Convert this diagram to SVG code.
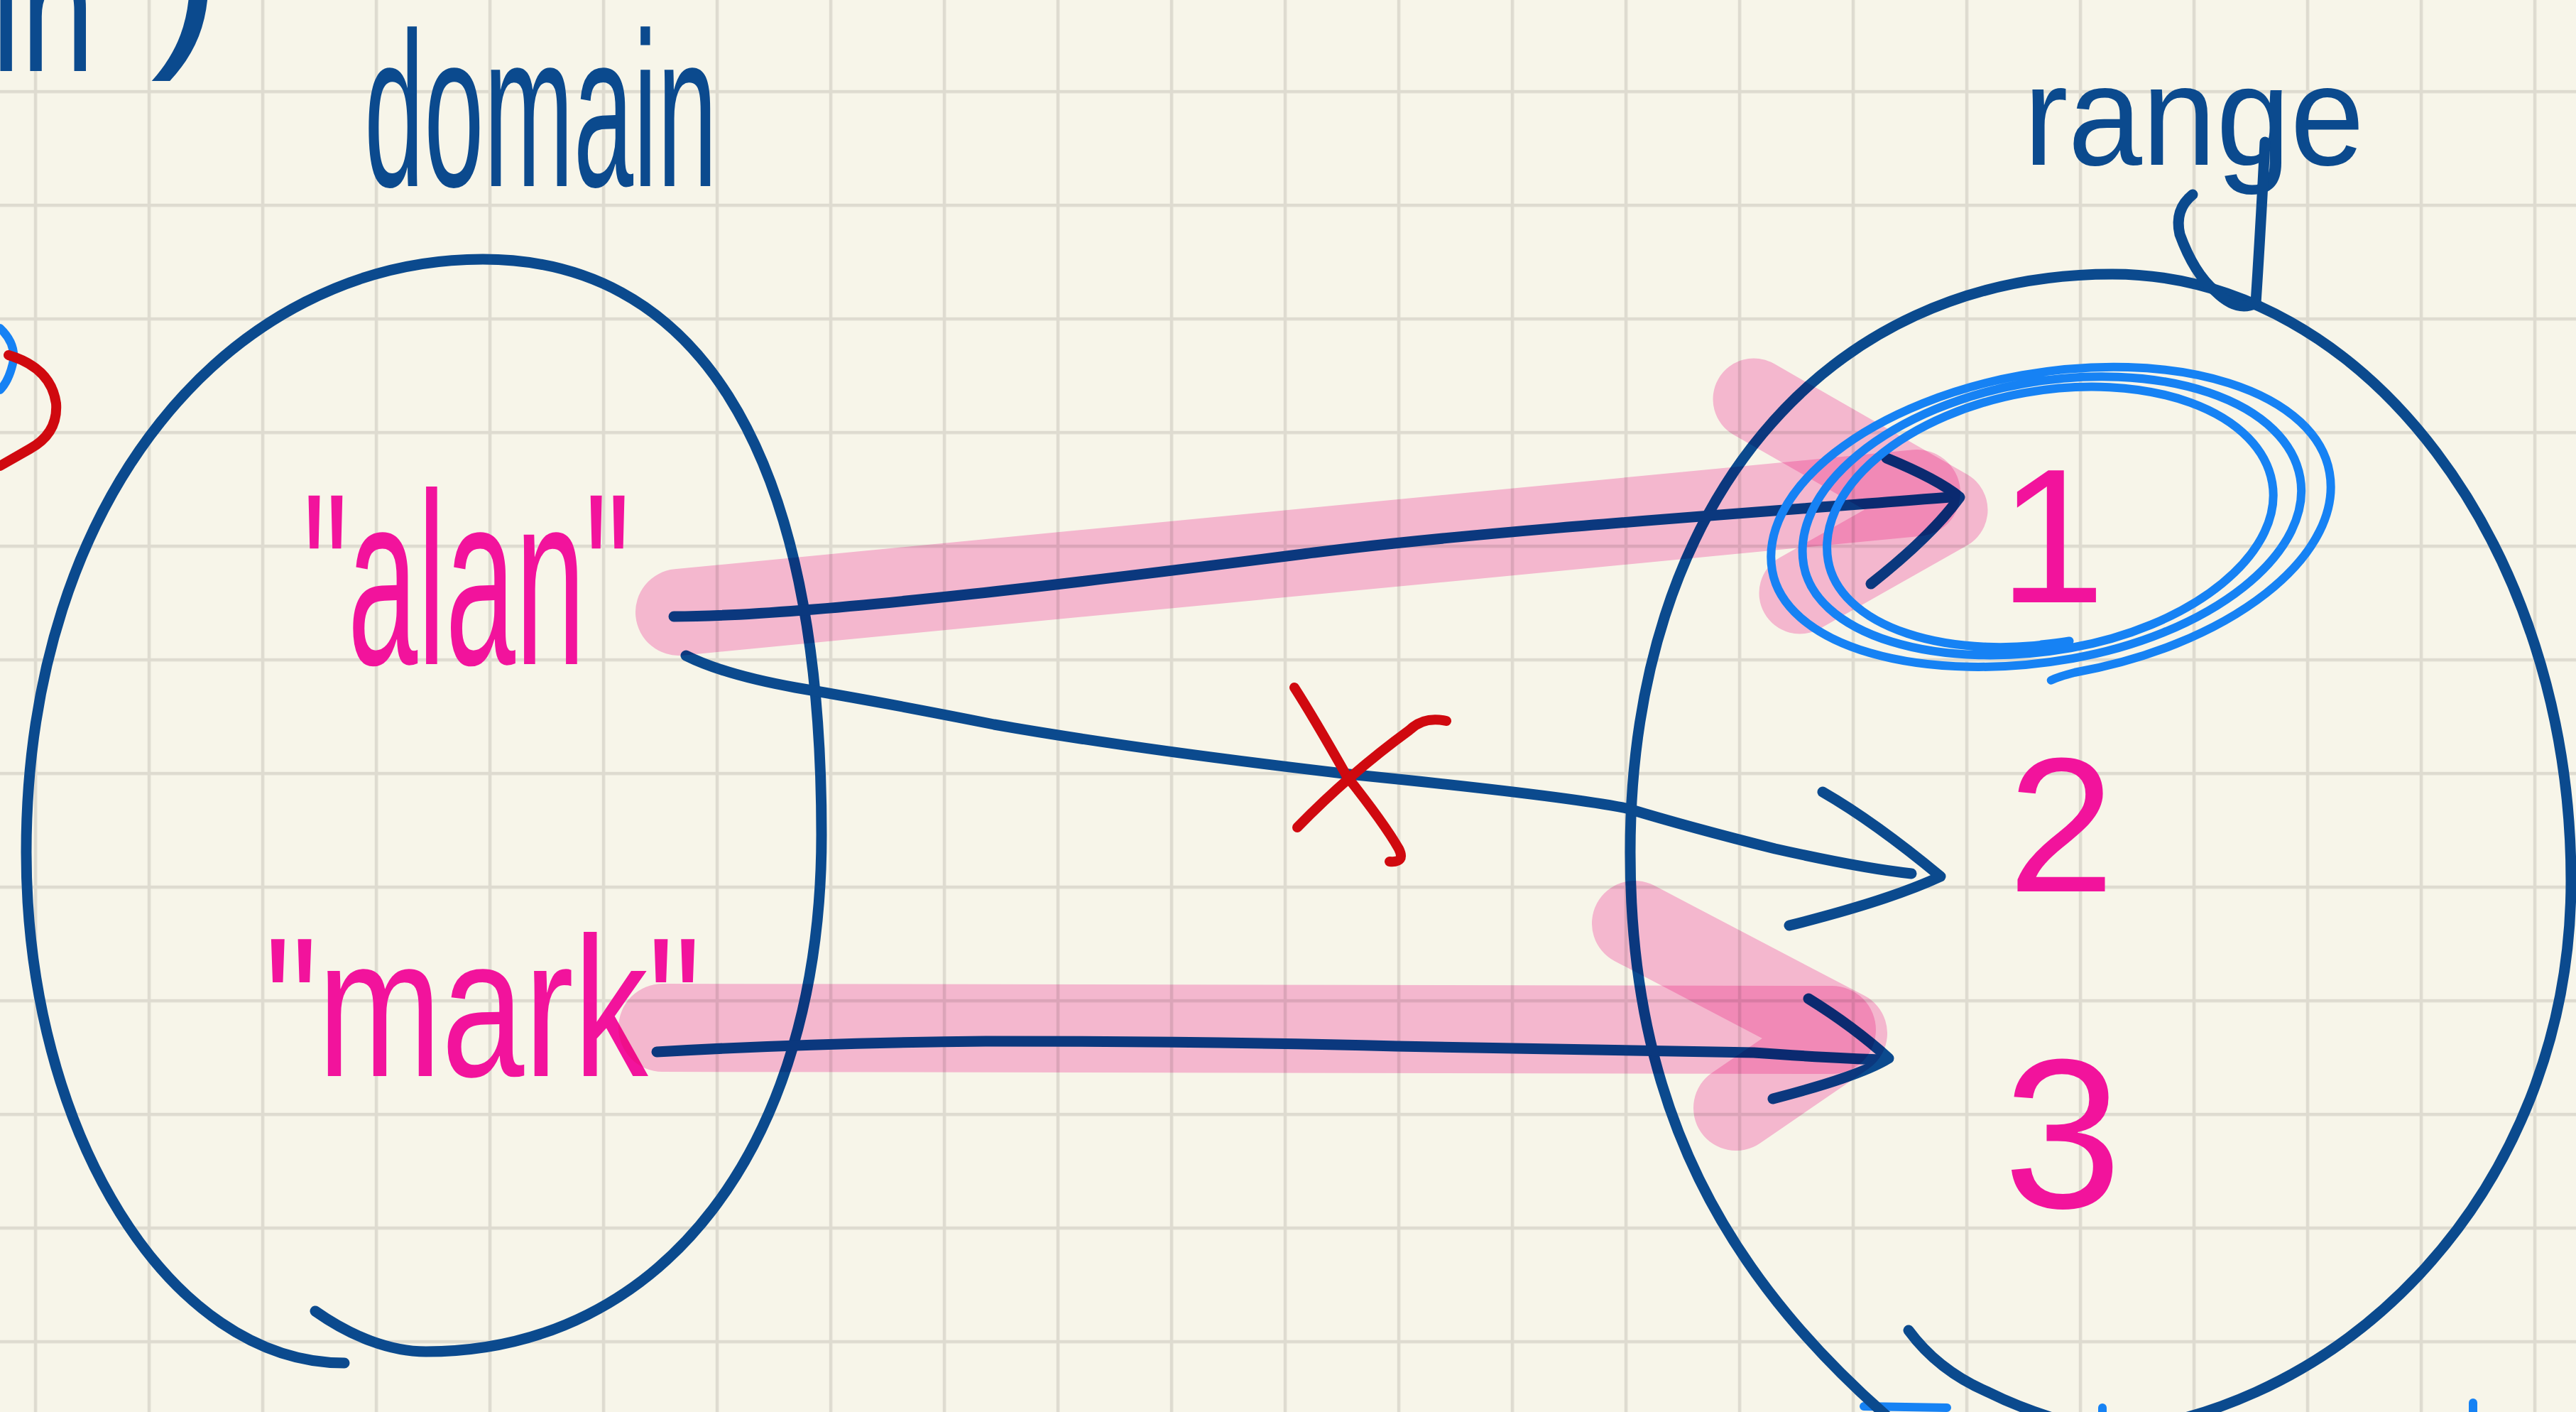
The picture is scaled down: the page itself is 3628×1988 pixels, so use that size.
<svg xmlns="http://www.w3.org/2000/svg" width="3628" height="1988" viewBox="0 0 3628 1988">
<style>
.ink{fill:none;stroke:#0b4a8e;stroke-width:15;stroke-linecap:round;stroke-linejoin:round}
.hl{fill:none;stroke:#fcbfe2;stroke-linecap:round;stroke-linejoin:round;mix-blend-mode:multiply}
.red{fill:none;stroke:#d0090f;stroke-width:14;stroke-linecap:round;stroke-linejoin:round}
.sky{fill:none;stroke:#1682f4;stroke-width:12;stroke-linecap:round;stroke-linejoin:round}
.tb{font-family:"Liberation Sans",Arial,sans-serif;fill:#0b4a8e}
.tp{font-family:"Liberation Sans",Arial,sans-serif;fill:#f2139c}
</style>
<defs>
<pattern id="grid" x="47.75" y="126.75" width="160" height="160" patternUnits="userSpaceOnUse">
<rect x="0" y="0" width="4.5" height="160" fill="#dedbd0"/>
<rect x="0" y="0" width="160" height="4.5" fill="#dedbd0"/>
</pattern>
</defs>
<rect width="3628" height="1988" fill="#f7f5e9"/>
<rect width="3628" height="1988" fill="url(#grid)"/>

<g id="margin-notes">
<text class="tb" x="-12" y="100" font-size="250" textLength="145" lengthAdjust="spacingAndGlyphs">in</text>
<text class="tb" x="212" y="52" font-size="300">)</text>
<path class="sky" d="M0,462 Q24,485 18,512 Q12,537 0,549"/>
<path class="red" d="M12,500 Q72,518 79,568 Q82,610 42,632 L0,656"/>
<path class="sky" d="M2625,1980 L2742,1982" stroke-width="22"/>
<path class="sky" d="M2961,1982 L2961,1998"/>
<path class="sky" d="M3483,1975 L3483,1998"/>
</g>

<g id="domain">
<path class="ink" d="M444,1846 C495,1882 550,1903 600,1903 C934,1903 1157,1612 1157,1175 C1157,608 966,365 680,365 C326,365 37,699 37,1200 C37,1595 239,1919 485,1919"/>
<text class="tb" x="513" y="262" font-size="310" textLength="497" lengthAdjust="spacingAndGlyphs">domain</text>
</g>

<g id="alan">
<text class="tp" x="427" y="935" font-size="345" textLength="460" lengthAdjust="spacingAndGlyphs">"alan"</text>
</g>

<g id="mark">
<text class="tp" x="373" y="1515" font-size="280" textLength="614" lengthAdjust="spacingAndGlyphs">"mark"</text>
</g>

<g id="range">
<path class="ink" d="M2700,2030 C2420,1800 2296,1550 2296,1200 C2296,712 2568,386 2975,386 C3330,386 3621,770 3621,1240 C3621,1680 3290,2020 2900,2020"/>
<path class="ink" d="M2688,1873 Q2730,1930 2800,1960 Q2860,1990 2940,2010"/>
<text class="tb" x="2850" y="232" font-size="200" textLength="480" lengthAdjust="spacingAndGlyphs">range</text>
<path class="ink" d="M3190,200 Q3184,320 3177,427"/>
<path class="ink" d="M3088,274 Q3062,295 3070,330 Q3090,385 3120,410 Q3150,440 3177,427"/>
</g>

<g id="val-1">
<text class="tp" x="2890" y="848" font-size="270" text-anchor="middle">1</text>
</g>
<g id="val-2">
<text class="tp" x="2903" y="1255" font-size="270" text-anchor="middle">2</text>
</g>
<g id="val-3">
<text class="tp" x="2905" y="1700" font-size="300" text-anchor="middle">3</text>
</g>

<g id="connectors">
<path class="ink" d="M949,868 C1150,868 1600,810 1851,778 S2500,720 2758,699"/>
<path class="ink" d="M2657,645 Q2730,675 2760,700 Q2720,755 2635,822"/>
<path class="ink" d="M966,923 Q1020,950 1120,968 Q1250,990 1400,1020 Q1600,1055 1900,1090 Q2200,1120 2291,1138 Q2380,1165 2500,1195 Q2620,1222 2692,1230"/>
<path class="ink" d="M2567,1115 Q2640,1157 2733,1234 Q2660,1268 2520,1303"/>
<path class="ink" d="M925,1481 Q1150,1468 1388,1466 Q1700,1466 1967,1473 Q2300,1478 2470,1482 Q2580,1490 2655,1492"/>
<path class="ink" d="M2547,1406 Q2610,1445 2660,1490 Q2620,1515 2497,1547"/>
<path class="hl" stroke-width="122" d="M956,862 L2700,694"/>
<path class="hl" stroke-width="115" d="M2470,562 L2742,718 L2535,835"/>
<path class="hl" stroke-width="124" d="M933,1447 L2580,1450"/>
<path class="hl" stroke-width="120" d="M2302,1300 L2598,1455 L2445,1560"/>
<path class="red" d="M1823,968 Q1850,1010 1897,1093 Q1950,1160 1970,1195 Q1980,1215 1957,1213"/>
<path class="red" d="M2037,1015 Q2005,1008 1985,1028 Q1900,1090 1827,1165"/>
</g>

<g id="circle-1">
<path class="sky" transform="rotate(-10 2885 735)" d="M2845,903 Q2870,905 2885,905 A315 170 0 0 1 2570,735 A315 185 0 0 1 2885,550 A320 185 0 0 1 3205,735 A320 180 0 0 1 2885,915 A350 180 0 0 1 2535,735 A350 198 0 0 1 2885,537 A360 198 0 0 1 3245,735 A360 195 0 0 1 2885,930 A395 195 0 0 1 2490,735 A395 210 0 0 1 2885,525 A402 210 0 0 1 3287,735 A402 215 0 0 1 2885,950 Q2860,952 2850,955"/>
</g>
</svg>
